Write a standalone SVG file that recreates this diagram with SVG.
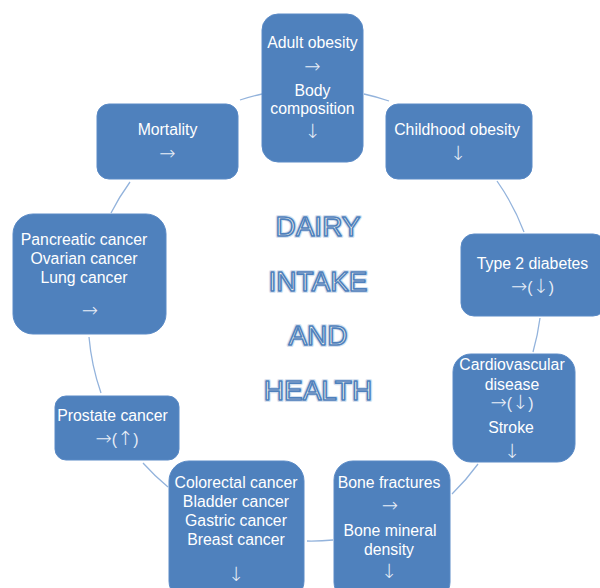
<svg xmlns="http://www.w3.org/2000/svg" width="600" height="588" viewBox="0 0 600 588">
<style>
.box{fill:#4f81bd;stroke:#5a8ac6;stroke-width:1}
.t{font-family:"Liberation Sans",Arial,sans-serif;font-size:15.8px;fill:#ffffff;text-anchor:middle}
.a{font-family:"DejaVu Sans",sans-serif;font-weight:200;font-size:19.5px;fill:#e8eef7;text-anchor:middle}
.p{font-family:"Liberation Sans",Arial,sans-serif;font-weight:normal;font-size:15.8px}
.c{fill:none;stroke:#93b3dc;stroke-width:1.3}
.title{font-family:"Liberation Sans",Arial,sans-serif;font-size:28px;text-anchor:middle}
.glow{fill:none;stroke:#d6e1ef;stroke-width:4;stroke-linejoin:round}
.ink{fill:#f5f5ea;stroke:#4f81bd;stroke-width:1.6;stroke-linejoin:round}
</style>
<rect width="600" height="588" fill="#ffffff"/>
<g id="connectors">
<path class="c" d="M364,94 A230,230 0 0 1 389,101"/>
<path class="c" d="M497,181 A230,230 0 0 1 524,232"/>
<path class="c" d="M540,318 A230,230 0 0 1 533,352"/>
<path class="c" d="M478,464 A230,230 0 0 1 452,494"/>
<path class="c" d="M333,540 A230,230 0 0 1 307,541"/>
<path class="c" d="M168,487 A230,230 0 0 1 143,463"/>
<path class="c" d="M101,393 A230,230 0 0 1 89,337"/>
<path class="c" d="M111,213 A230,230 0 0 1 130,182"/>
<path class="c" d="M240,100 A230,230 0 0 1 262,94"/>
</g>
<g id="title">
<g class="title glow">
<text x="318" y="236">DAIRY</text>
<text x="318" y="291">INTAKE</text>
<text x="318" y="345">AND</text>
<text x="318" y="400">HEALTH</text>
</g>
<g class="title ink">
<text x="318" y="236">DAIRY</text>
<text x="318" y="291">INTAKE</text>
<text x="318" y="345">AND</text>
<text x="318" y="400">HEALTH</text>
</g>
</g>
<g id="adult-obesity">
<rect class="box" x="262" y="14" width="101" height="148" rx="16"/>
<text class="t" x="312.5" y="48">Adult obesity</text>
<text class="a" x="312.5" y="73">→</text>
<text class="t" x="312.5" y="96">Body</text>
<text class="t" x="312.5" y="114">composition</text>
<text class="a" x="312.5" y="138">↓</text>
</g>
<g id="childhood-obesity">
<rect class="box" x="386" y="104" width="146" height="75" rx="12"/>
<text class="t" x="457" y="135">Childhood obesity</text>
<text class="a" x="458" y="160">↓</text>
</g>
<g id="type2-diabetes">
<rect class="box" x="461" y="234" width="145" height="82" rx="13"/>
<text class="t" x="532.5" y="269">Type 2 diabetes</text>
<text class="a" x="532.5" y="293">→<tspan class="p">(</tspan>↓<tspan class="p">)</tspan></text>
</g>
<g id="cardiovascular">
<rect class="box" x="453" y="354" width="122" height="108" rx="18"/>
<text class="t" x="512" y="370">Cardiovascular</text>
<text class="t" x="512" y="390">disease</text>
<text class="a" x="512" y="409">→<tspan class="p">(</tspan>↓<tspan class="p">)</tspan></text>
<text class="t" x="511" y="433">Stroke</text>
<text class="a" x="512" y="458">↓</text>
</g>
<g id="bone">
<rect class="box" x="334" y="461" width="116" height="140" rx="19"/>
<text class="t" x="389" y="488">Bone fractures</text>
<text class="a" x="390" y="512">→</text>
<text class="t" x="390" y="536">Bone mineral</text>
<text class="t" x="389" y="555">density</text>
<text class="a" x="389" y="578">↓</text>
</g>
<g id="colorectal">
<rect class="box" x="169" y="461" width="135" height="140" rx="20"/>
<text class="t" x="236" y="488">Colorectal cancer</text>
<text class="t" x="236" y="507">Bladder cancer</text>
<text class="t" x="236" y="526">Gastric cancer</text>
<text class="t" x="236" y="545">Breast cancer</text>
<text class="a" x="236" y="581">↓</text>
</g>
<g id="prostate">
<rect class="box" x="55" y="396" width="124" height="64" rx="11"/>
<text class="t" x="112.5" y="421">Prostate cancer</text>
<text class="a" x="117" y="445">→<tspan class="p">(</tspan>↑<tspan class="p">)</tspan></text>
</g>
<g id="pancreatic">
<rect class="box" x="13" y="214" width="153" height="120" rx="20"/>
<text class="t" x="84" y="245">Pancreatic cancer</text>
<text class="t" x="84" y="264">Ovarian cancer</text>
<text class="t" x="84" y="283">Lung cancer</text>
<text class="a" x="90" y="317">→</text>
</g>
<g id="mortality">
<rect class="box" x="97" y="104" width="141" height="75" rx="12"/>
<text class="t" x="167.5" y="135">Mortality</text>
<text class="a" x="167.5" y="160">→</text>
</g>
</svg>
